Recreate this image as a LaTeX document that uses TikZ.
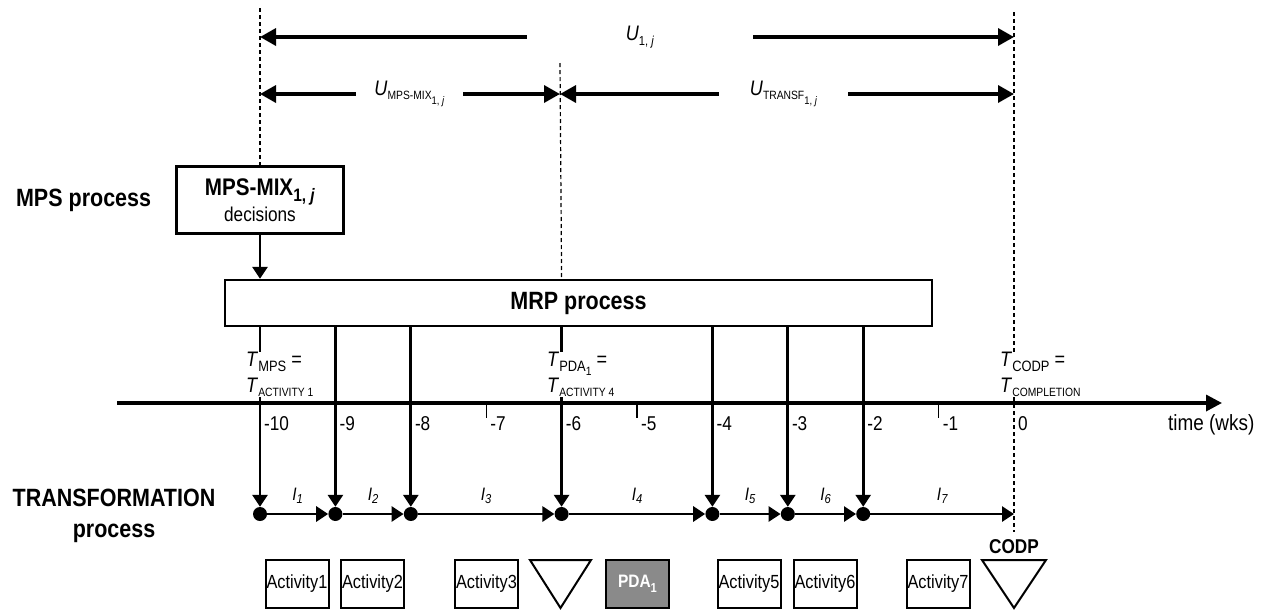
\documentclass[tikz,border=0pt]{standalone}
\usepackage{fontspec}
\setmainfont{Liberation Sans}[FakeStretch=0.86]
\usetikzlibrary{arrows.meta,positioning}
\definecolor{pdagray}{RGB}{138,138,138}
% lowered small text for subscripts
\newcommand\lowtx[3]{\raisebox{-#1pt}{\fontsize{#2}{#2}\selectfont #3}}

\begin{document}
\begin{tikzpicture}[x=1pt,y=-1pt,
    box/.style={draw,line width=2.4pt,inner sep=0pt,align=center},
    flow/.style={line width=2.8pt,-{Triangle[length=12pt,width=15pt]}},
    dimarr/.style={line width=3.4pt,-{Triangle[length=16pt,width=17pt]}},
    guide/.style={line width=1.2pt,dash pattern=on 4pt off 3pt},
    dot/.style={circle,fill,inner sep=0pt,minimum size=14pt},
    headlbl/.style={font=\fontsize{25}{31}\selectfont\bfseries,inner sep=0pt,align=center},
    actbox/.style={box,line width=2pt,minimum width=63pt,minimum height=48pt,font=\fontsize{19}{19}\selectfont},
    ulbl/.style={inner sep=0pt,font=\fontsize{21}{21}\selectfont},
    tlbl/.style={inner sep=0pt,anchor=north west,align=left,fill=white,font=\fontsize{21}{26}\selectfont},
    wklbl/.style={inner sep=0pt,anchor=west,font=\fontsize{20}{20}\selectfont},
    ilbl/.style={inner sep=0pt,font=\fontsize{18}{18}\selectfont\itshape}]
  \useasboundingbox (0,0) rectangle (1268,611);

  % time grid
  \foreach \n in {0,...,10}{
    \coordinate (ax\n) at ({1014-75.4*\n},403);
    \coordinate (tr\n) at ({1014-75.4*\n},514);
  }
  \coordinate (axstart) at (117,403);
  \coordinate (axend) at (1222,403);

  % process boxes
  \node[box,minimum width=167pt,minimum height=67pt] (mix) at (260,200)
    {{\fontsize{24}{24}\selectfont\bfseries MPS-MIX\lowtx{6}{18}{1, \textit{j}}}\\[1pt]
     {\fontsize{20}{20}\selectfont decisions}};
  \node[box,minimum width=707pt,minimum height=46pt,font=\fontsize{25}{25}\selectfont\bfseries] (mrp) at (578.5,303) {MRP process};
  \node[headlbl,left=24pt of mix] (mpsp) {MPS process};
  \node[headlbl] (trfp) at (114,516) {TRANSFORMATION\\process};

  % dashed guides
  \coordinate (g10) at (260,8);
  \coordinate (g6) at (560,63);
  \coordinate (g0) at (1014,12);
  \coordinate (g0end) at (1014,532);
  \draw[guide] (g10) -- (mix.north);
  \draw[guide] (g6) -- (mrp.north -| ax6);
  \draw[guide] (g0) -- (g0end);

  % lead times
  \node[ulbl,minimum width=226pt] (u1j) at (640,37) {\textit{U}\lowtx{5}{13}{1, \textit{j}}};
  \draw[dimarr] (u1j.west) -- (u1j.west -| g10);
  \draw[dimarr] (u1j.east) -- (u1j.east -| g0);
  \node[ulbl,minimum width=107pt] (umix) at (409.5,94) {\textit{U}\lowtx{4}{12}{MPS-MIX\lowtx{5}{11}{1, \textit{j}}}};
  \draw[dimarr] (umix.west) -- (umix.west -| g10);
  \draw[dimarr] (umix.east) -- (umix.east -| g6);
  \node[ulbl,minimum width=129pt] (utrf) at (783.5,94) {\textit{U}\lowtx{4}{12}{TRANSF\lowtx{5}{11}{1, \textit{j}}}};
  \draw[dimarr] (utrf.west) -- (utrf.west -| g6);
  \draw[dimarr] (utrf.east) -- (utrf.east -| g0);

  % MPS decisions into MRP
  \draw[flow] (mix.south) -- (mix.south |- mrp.north);

  % time axis
  \draw[line width=3.4pt,-{Triangle[length=16pt,width=16pt]}] (axstart) -- (axend);
  \foreach \n in {7,5,1} \draw[line width=1.4pt] (ax\n) -- ++(0,15);
  \foreach \n in {10,...,1} \node[wklbl] at ([xshift=4pt,yshift=-21pt]ax\n) {-\n};
  \node[wklbl] at ([xshift=4pt,yshift=-21pt]ax0) {0};
  \node[inner sep=0pt,anchor=west,font=\fontsize{22}{22}\selectfont] (tlab) at (1168,425) {time (wks)};

  % transformation line
  \foreach \n in {10,9,8,6,4,3,2} \node[dot] (d\n) at (tr\n) {};
  \foreach \n in {10,9,8,6,4,3,2} \draw[flow] (mrp.south -| d\n) -- (d\n);
  \foreach \ia/\ib/\ik in {10/9/1,9/8/2,8/6/3,6/4/4,4/3/5,3/2/6}
    \draw[flow] (d\ia) -- (d\ib) node[ilbl,midway,above=9pt] {I\lowtx{3}{13}{\ik}};
  \draw[flow] (d2) -- (tr0) node[ilbl,midway,above=9pt] {I\lowtx{3}{13}{7}};

  % event times
  \node[tlbl] (tmps) at (246,352) {\textit{T}\lowtx{5}{15}{MPS} =\\\textit{T}\lowtx{4}{12}{ACTIVITY 1}};
  \node[tlbl] (tpda) at (547,352) {\textit{T}\lowtx{5}{15}{PDA\lowtx{4}{12}{1}} =\\\textit{T}\lowtx{4}{12}{ACTIVITY 4}};
  \node[tlbl] (tcodp) at (1000,352) {\textit{T}\lowtx{5}{15}{CODP} =\\\textit{T}\lowtx{4}{12}{COMPLETION}};

  % activities and stocks
  \foreach \nm/\xc/\lbl in {act1/297/Activity1,act2/372.5/Activity2,act3/486.5/Activity3,act5/749/Activity5,act6/825/Activity6,act7/938/Activity7}
    \node[actbox] (\nm) at (\xc,584) {\lbl};
  \node[actbox,fill=pdagray,text=white,font=\fontsize{18}{18}\selectfont\bfseries] (pda) at (637.5,584) {PDA\lowtx{5}{13}{1}};
  \coordinate (pdatri) at (560.5,560);
  \coordinate (codptri) at (1014,560);
  \draw[line width=2pt] (pdatri) ++(-30.5,0) -- ++(61,0) -- ++(-30.5,48) -- cycle;
  \draw[line width=2pt] (codptri) ++(-32,0) -- ++(64,0) -- ++(-32,48) -- cycle;
  \node[inner sep=0pt,font=\fontsize{20}{20}\selectfont\bfseries] (codp) at (1014,547) {CODP};
\end{tikzpicture}
\end{document}
